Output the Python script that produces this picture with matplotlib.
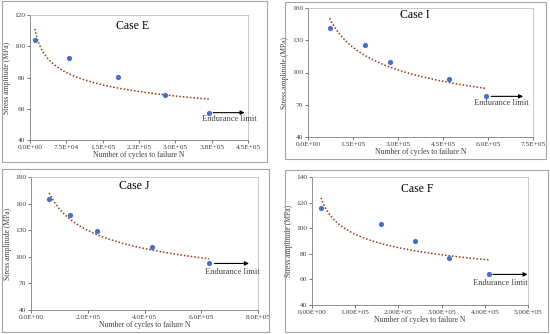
import numpy as np
import matplotlib
matplotlib.use("Agg")
import matplotlib.pyplot as plt
from matplotlib.patches import Rectangle

plt.rcParams['font.family'] = ['Liberation Serif', 'DejaVu Serif']

# data (cycles, stress amplitude MPa)
cases = ["Case E", "Case I", "Case J", "Case F"]
cycles_E = [1.0e4, 8.0e4, 1.81e5, 2.78e5, 3.69e5]
stress_E = [104.0, 92.3, 80.6, 68.8, 57.5]
cycles_I = [0.72e5, 1.91e5, 2.72e5, 4.69e5, 5.93e5]
stress_I = [141.3, 125.5, 109.5, 93.6, 77.8]
cycles_J = [0.64e5, 1.37e5, 2.33e5, 4.27e5, 6.28e5]
stress_J = [165.3, 146.9, 129.3, 110.9, 92.5]
cycles_F = [0.21e5, 1.60e5, 2.39e5, 3.18e5, 4.10e5]
stress_F = [116.1, 102.9, 89.9, 77.1, 63.9]

xticks_E = [0, 7.5e4, 1.5e5, 2.25e5, 3.0e5, 3.75e5, 4.5e5]
xlabels_E = ["0.0E+00", "7.5E+04", "1.5E+05", "2.3E+05", "3.0E+05", "3.8E+05", "4.5E+05"]
xticks_I = [0, 1.5e5, 3.0e5, 4.5e5, 6.0e5, 7.5e5]
xlabels_I = ["0.0E+00", "1.5E+05", "3.0E+05", "4.5E+05", "6.0E+05", "7.5E+05"]
xticks_J = [0, 2e5, 4e5, 6e5, 8e5]
xlabels_J = ["0.0E+00", "2.0E+05", "4.0E+05", "6.0E+05", "8.0E+05"]
xticks_F = [0, 1e5, 2e5, 3e5, 4e5, 5e5]
xlabels_F = ["0.00E+00", "1.00E+05", "2.00E+05", "3.00E+05", "4.00E+05", "5.00E+05"]
yticks_E = [40, 60, 80, 100, 120]
yticks_I = [40, 70, 100, 130, 160]
yticks_J = [40, 70, 100, 130, 160, 190]
yticks_F = [40, 60, 80, 100, 120, 140]

W, H = 550, 334

def fr(l, r, t, b):
    return [l / W, 1 - b / H, (r - l) / W, (b - t) / H]

panels = [
    dict(name=cases[0], x=cycles_E, y=stress_E, xt=xticks_E, xl=xlabels_E, yt=yticks_E,
         ax=fr(30, 248, 15, 140), box=(2, 267, 1, 162), title=(0.47, 0.915),
         arrow=(3.78e5, 4.43e5), text=(4.12e5, 53.5)),
    dict(name=cases[1], x=cycles_I, y=stress_I, xt=xticks_I, xl=xlabels_I, yt=yticks_I,
         ax=fr(308, 533, 8, 137), box=(285, 546, 2, 159), title=(0.475, 0.945),
         arrow=(6.11e5, 7.17e5), text=(6.44e5, 71.5)),
    dict(name=cases[2], x=cycles_J, y=stress_J, xt=xticks_J, xl=xlabels_J, yt=yticks_J,
         ax=fr(31, 258, 177, 310), box=(2, 269, 169, 332), title=(0.455, 0.935),
         arrow=(6.47e5, 7.68e5), text=(7.08e5, 82.5)),
    dict(name=cases[3], x=cycles_F, y=stress_F, xt=xticks_F, xl=xlabels_F, yt=yticks_F,
         ax=fr(312, 528, 177, 305), box=(285, 548, 170, 332), title=(0.485, 0.91),
         arrow=(4.19e5, 4.99e5), text=(4.35e5, 57.5)),
]

fig = plt.figure(figsize=(5.5, 3.34), dpi=100)

for p in panels:
    l, r, t, b = p["box"]
    fig.patches.append(Rectangle((l / W, 1 - b / H), (r - l) / W, (b - t) / H,
                                 transform=fig.transFigure, fill=False,
                                 edgecolor="#a6a6a6", linewidth=0.8))
    ax = fig.add_axes(p["ax"])
    x = np.array(p["x"])
    y = np.array(p["y"])
    # power trendline fitted to the points
    bcoef, acoef = np.polyfit(np.log(x), np.log(y), 1)
    xs = np.linspace(x.min(), x.max(), 200)
    ax.plot(xs, np.exp(acoef) * xs ** bcoef, linestyle=(0, (1, 1.3)),
            color="#93380f", linewidth=1.1, zorder=2)
    ax.scatter(x, y, s=14, color="#4a6fc9", zorder=3, linewidths=0)
    ax.annotate("", xy=(p["arrow"][1], y[-1]), xytext=(p["arrow"][0], y[-1]),
                arrowprops=dict(arrowstyle="-|>", color="black", lw=0.8,
                                mutation_scale=6, shrinkA=0, shrinkB=0))
    ax.text(p["text"][0], p["text"][1], "Endurance limit", fontsize=6,
            ha="center", va="center", color="#404040")
    ax.text(p["title"][0], p["title"][1], p["name"], transform=ax.transAxes,
            fontsize=8.5, ha="center", va="center", color="black")
    ax.set_xlim(p["xt"][0], p["xt"][-1])
    ax.set_ylim(p["yt"][0], p["yt"][-1])
    ax.set_xticks(p["xt"])
    ax.set_xticklabels(p["xl"])
    ax.set_yticks(p["yt"])
    ax.tick_params(labelsize=5.3, colors="#404040", length=2, width=0.5, pad=1.5)
    for s in ["top", "right"]:
        ax.spines[s].set_color("#bfbfbf")
        ax.spines[s].set_linewidth(0.6)
    for s in ["left", "bottom"]:
        ax.spines[s].set_color("#7f7f7f")
        ax.spines[s].set_linewidth(0.6)
    ax.set_xlabel("Number of cycles to failure N", fontsize=5.5, color="#404040", labelpad=0.5)
    ax.set_ylabel("Stress amplitude (MPa)", fontsize=5.5, color="#404040", labelpad=2)

fig.savefig("out.png", dpi=100)
